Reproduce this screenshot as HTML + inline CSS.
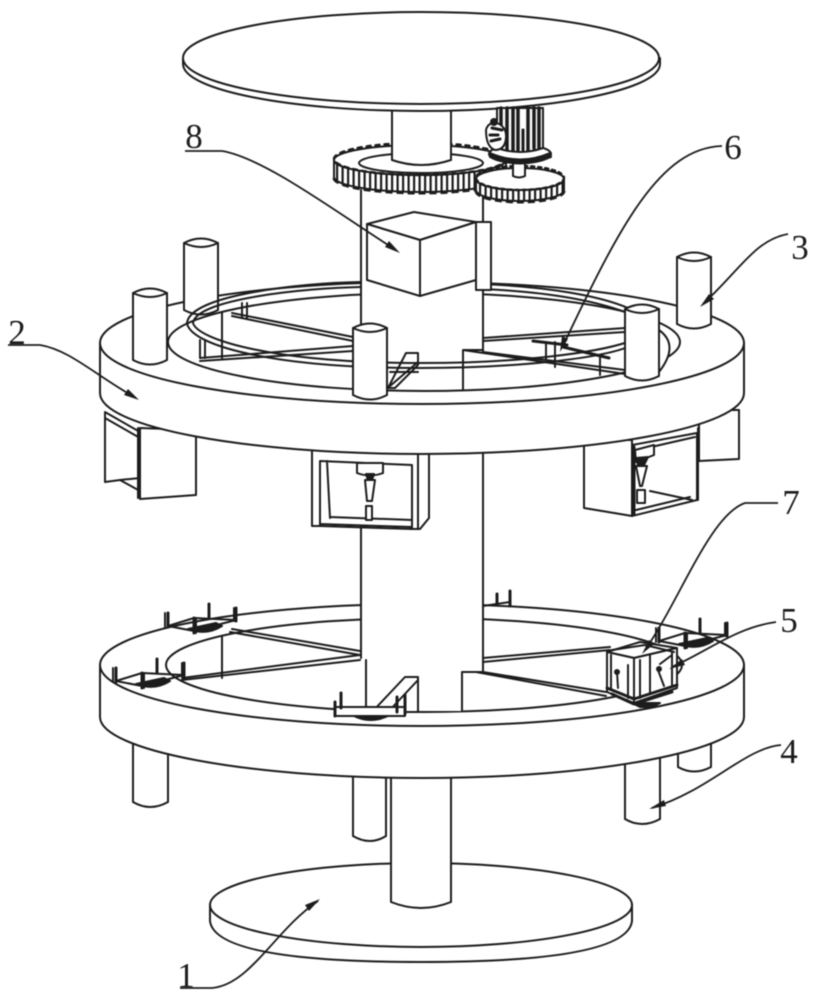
<!DOCTYPE html>
<html><head><meta charset="utf-8"><style>
html,body{margin:0;padding:0;background:#fff;width:816px;height:1000px;overflow:hidden}
svg{display:block;filter:blur(.4px)}
.s *{fill:#fff;stroke:#1c1c1c;stroke-width:2;stroke-linejoin:round;stroke-linecap:round}
.s .n{fill:none}
.s .t{stroke-width:3}
.s .d{fill:#1c1c1c}
text{font-family:"Liberation Serif","Noto Serif CJK SC",serif;font-size:35px;fill:#1c1c1c;stroke:none;text-anchor:middle}
</style></head><body>
<svg width="816" height="1000" viewBox="0 0 816 1000" xmlns="http://www.w3.org/2000/svg">
<defs>
<pattern id="tp" width="11" height="30" patternUnits="userSpaceOnUse" x="336" y="0">
  <rect width="11" height="30" fill="#fff"/>
  <rect x="0" width="2.2" height="30" fill="#1c1c1c"/>
  <rect x="5.5" width="2.2" height="30" fill="#1c1c1c"/>
</pattern>
</defs>
<g class="s">
<defs>
<g id="br">
  <path class="n" d="M-34 4 L-8 -4 L34 -2 L-8 9 Z"/>
  <path class="d" d="M-14 7 Q4 14 20 4 L14 1 Z"/>
  <path class="n t" d="M-34 -9V5M-8 -4V11M7 -18V-5M34 -14V-1"/>
  <path class="n" d="M-37 -9V5M-6 -4V11M32 -14V-1"/>
</g>
<g id="cup">
  <path d="M-17 5V72Q0 81 17 72V5Z"/>
  <path d="M-17 5Q0 -4 17 5Q0 13 -17 5Z"/>
</g>
</defs>
<!-- base -->
<path d="M210 905V921Q215 962 421 962Q627 962 632 921V905Z"/>
<ellipse cx="421" cy="905" rx="211" ry="42"/>
<!-- feet -->
<path d="M678 740V767Q694 776 711 767V740Z"/>
<path d="M133 740V802Q150 812 168 802V740Z"/>
<path d="M353 770V836Q370 846 386 836V770Z"/>
<path d="M625 750V819Q642 829 660 819V750Z"/>
<path d="M391 770V902Q421 914 451 902V770Z"/>
<!-- lower ring -->
<path d="M100 665V717C100 750 245 778 422 778C599 778 744 750 744 717V665Z"/>
<ellipse cx="422" cy="665" rx="322" ry="61"/>
<ellipse class="n" cx="424" cy="665" rx="258" ry="47"/>
<path class="n" d="M222 636V678"/>
<path class="n" d="M230 632L360 655M232 629L360 651"/>
<path class="n" d="M182 680L360 660M182 678L360 655"/>
<path class="n" d="M483 662L610 650M483 658L610 647"/>
<path class="n" d="M483 672L606 692M476 672L606 696"/>
<!-- lower column -->
<path style="stroke:none" d="M361 430H483V672H462V711H366V668H361Z"/>
<path class="n" d="M361 430V658M483 430V672M462 672V711M462 672H483M366 660V711"/>
<path d="M372 712L405 677H418V712Z"/>
<path class="n" d="M388 712L418 680"/>
<path class="n" d="M483 606L510 602"/>
<use href="#br" x="202" y="622"/>
<use href="#br" x="150" y="677"/>
<path d="M335 707H405V716H335Z"/>
<path class="n t" d="M335 702V716M341 693V708M397 697V712M405 695V714"/>
<path class="d" d="M354 716Q370 724 388 716Z"/>
<path class="n t" d="M510 591V606M497 594V604"/>
<use href="#br" x="693" y="637"/>
<!-- carrier -->
<path d="M607 652L640 642L677 648L634 658Z"/>
<path d="M607 652V692L634 703V658Z"/>
<path d="M634 658L677 648V688L634 703Z"/>
<path class="n" d="M611 655V690M628 665V698M640 660V698M650 655V694M672 652V686M612 650L645 645L674 652"/>
<path class="n t" d="M607 688L634 699L677 685M612 694L634 704L672 692"/>
<path class="n" d="M617 672L618 688M658 670L664 686M660 664L672 655"/>
<circle class="d" cx="617" cy="672" r="2"/><circle class="d" cx="659" cy="669" r="2"/>
<path class="d" d="M632 703H660L652 707H640Z"/>
<!-- under boxes -->
<path d="M105 412V482L120 480L140 491V432Z"/>
<path class="n" d="M105 418L140 438M120 480L140 478"/>
<path d="M140 428V499L196 495V430Z"/>
<path class="n" d="M138 428V498"/>
<path d="M699 410H739V459L699 461Z"/>
<path d="M584 440V508L632 516V440Z"/>
<path d="M312 450V526H320L412 529H420L429 518V450Z"/>
<path class="n" d="M320 461V526M320 461L412 465M327 461L330 518M330 517L412 520M320 524L412 527M412 465V528M418 455V528"/>
<path d="M357 463V473Q370 478 383 473V463Z"/>
<path class="d" d="M366 474H374L372 480H368Z"/>
<path d="M365 480H375L372 501H367Z"/>
<path d="M366 506H372V520H366Z"/>
<path class="n" d="M361 527V548"/>
<path d="M632 445L697 433V500L632 516Z"/>
<path class="n t" d="M634 447V514"/>
<path class="n" d="M698 428V500M638 450L695 437M636 510L690 497M650 491L692 500"/>
<path d="M635 450L654 445V455L636 462Z"/>
<path class="d" d="M636 458L648 457L644 465H638Z"/>
<path d="M636 466H647L642 486H640Z"/>
<path d="M637 490H645V503H637Z"/>
<!-- upper ring -->
<path d="M100 343V393C100 427 245 454 422 454C599 454 744 427 744 393V343Z"/>
<ellipse cx="422" cy="343" rx="322" ry="61"/>
<ellipse class="n" cx="424" cy="342" rx="256" ry="49"/>
<!-- back cups -->
<use href="#cup" x="201" y="238"/>
<use href="#cup" x="694" y="252"/>
<!-- hump right -->
<path d="M659 330Q680 345 659 372Z"/>
<!-- inner wall / spokes -->
<path class="n" d="M222 312V358"/>
<path class="n" d="M232 313L353 337M232 316L353 341"/>
<path class="n" d="M200 358L353 346M200 361L353 351"/>
<path class="n" d="M483 338L625 328M483 341L625 332"/>
<path class="n" d="M463 350L625 374M483 352L625 370"/>
<!-- column upper -->
<path style="stroke:none" d="M361 190H483V350H463V389H387V330H361Z"/>
<path class="n" d="M361 190V328M483 190V352M463 350V389M463 350H483"/>
<path d="M388 388L406 353H418V365L395 388Z"/>
<path class="n" d="M390 372H418M390 386L418 362"/>
<!-- rail -->
<path class="n" d="M361 282C300 283 190 295 187 323C190 345 270 368 421 368C520 368 600 358 628 347"/>
<path class="n" d="M361 287C305 288 196 299 193 323C198 340 275 363 421 363C520 363 595 353 628 342"/>
<path class="n" d="M483 284C550 287 600 296 628 308M483 289C550 292 595 301 625 312"/>
<path class="n" d="M242 303V318M247 303V318M200 340V358M205 340V358"/>
<!-- carriage on rail -->
<path class="n t" d="M533 341L567 345M563 347L609 358"/>
<path class="n" d="M546 342V360M555 342V367M600 358V375"/>
<!-- front cups -->
<use href="#cup" x="150" y="288"/>
<use href="#cup" x="370" y="323"/>
<use href="#cup" x="642" y="304"/>
<!-- main box -->
<path d="M476 222H491V290H476Z"/>
<path d="M367 224L414 212L476 222L420 240Z"/>
<path d="M367 224V280L420 296V240Z"/>
<path d="M420 240L476 222V280L420 296Z"/>
<!-- large gear -->
<path style="fill:url(#tp)" d="M334 160A86 15 0 0 0 506 160V177A86 15 0 0 1 334 177Z"/>
<path class="n" style="stroke-width:3;stroke-dasharray:7 4;stroke-linecap:butt" d="M334 178A86 15 0 0 0 506 178"/>
<ellipse cx="420" cy="160" rx="86" ry="15"/>
<ellipse class="n" style="stroke-width:2.5;stroke-dasharray:4 5" cx="420" cy="159" rx="86" ry="16"/>
<ellipse cx="421" cy="163" rx="62" ry="10"/>
<!-- upper column -->
<path d="M392 105V160Q421 170 451 160V105Z"/>
<!-- small gear -->
<path style="fill:url(#tp)" d="M476 179A44 11 0 0 0 564 179V190A44 11 0 0 1 476 190Z"/>
<path class="n" style="stroke-width:3;stroke-dasharray:7 4;stroke-linecap:butt" d="M476 191A44 11 0 0 0 564 191"/>
<ellipse cx="520" cy="179" rx="44" ry="11"/>
<ellipse class="n" style="stroke-width:2.5;stroke-dasharray:3 4" cx="520" cy="178" rx="44" ry="12"/>
<path d="M513 163V176Q519 179 525 176V163Z"/>
<!-- top plate -->
<path d="M183 58V64C183 90 290 111 421 111C552 111 660 90 660 64V58Z"/>
<ellipse cx="421" cy="58" rx="238" ry="46"/>
<!-- motor -->
<ellipse cx="520" cy="154" rx="31" ry="9"/>
<path class="d" d="M490 153Q520 166 550 153L551 157Q520 170 490 157Z"/>
<path d="M497 108H543V148Q520 156 497 148Z"/>
<path class="n" style="stroke-width:3.5" d="M501 108V148M507 108V150M513 108V150M518 108V150M528 110V150M534 108V148M539 108V148"/>
<path class="n t" d="M523 130V150"/>
<path d="M486 130Q488 122 497 123Q507 127 506 138Q505 150 495 150Q486 147 486 130Z"/>
<path class="n t" d="M490 135H498M491 141L500 139M492 128L502 130"/>
<circle class="d" cx="494" cy="122" r="3"/>
</g>
<!-- leaders -->
<g fill="none" stroke="#1c1c1c" stroke-width="1.8">
<path d="M185 151H222C265 158 340 215 396 250"/>
<path d="M722 146C660 148 620 225 562 348"/>
<path d="M788 234C755 240 740 270 703 304"/>
<path d="M8 345H40C70 350 95 375 136 398"/>
<path d="M778 503H745C710 515 680 600 645 650"/>
<path d="M776 622C735 628 710 650 672 667"/>
<path d="M781 745C745 748 710 790 652 808"/>
<path d="M180 988H212C250 985 275 930 318 901"/>
</g>
<g fill="#1c1c1c">
<path d="M400 253L385 247L389 241Z"/>
<path d="M560 352L562 336L568 339Z"/>
<path d="M700 307L709 294L714 299Z"/>
<path d="M139 400L124 395L128 389Z"/>
<path d="M642 654L649 640L654 644Z"/>
<path d="M669 669L682 659L685 665Z"/>
<path d="M649 809L664 800L666 806Z"/>
<path d="M320 899L309 911L305 905Z"/>
</g>
<text x="194" y="148">8</text>
<text x="733" y="159">6</text>
<text x="800" y="259">3</text>
<text x="17" y="344">2</text>
<text x="791" y="514">7</text>
<text x="789" y="632">5</text>
<text x="789" y="763">4</text>
<text x="186" y="987">1</text>
</svg>
</body></html>
